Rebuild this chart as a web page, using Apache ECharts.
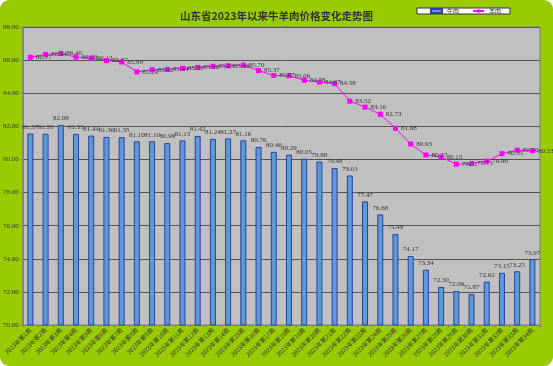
<!DOCTYPE html>
<html><head><meta charset="utf-8">
<script src="https://cdn.jsdelivr.net/npm/echarts@6/dist/echarts.min.js"></script>
<style>
html,body{margin:0;padding:0;background:#fff;}
#c{width:553px;height:366px;background:#99CC00;border-radius:9px;overflow:hidden;}
</style></head>
<body><div id="c"></div>
<script>
const titleText = '山东省2023年以来牛羊肉价格变化走势图';
const weeks = [];
for (let i = 1; i <= 34; i++) weeks.push('2023年第' + i + '周');
const beef = [81.57,81.55,82.08,81.55,81.44,81.36,81.35,81.10,81.10,80.99,81.15,81.42,81.24,81.27,81.16,80.76,80.46,80.29,80.05,79.88,79.48,79.03,77.47,76.68,75.49,74.17,73.34,72.30,72.06,71.87,72.62,73.15,73.25,73.97];
const mutton = [86.17,86.34,86.40,86.18,86.12,85.97,85.89,85.29,85.42,85.44,85.50,85.56,85.63,85.66,85.70,85.37,85.07,85.06,84.78,84.67,84.58,83.52,83.16,82.73,81.88,80.93,80.27,80.15,79.71,79.75,79.90,80.35,80.56,80.53];
const yMin = 70, yMax = 88, yStep = 2;

const chart = echarts.init(document.getElementById('c'), null, {renderer:'canvas'});
const lblFont = 'Liberation Serif, DejaVu Serif, serif';
chart.setOption({
  animation:false,
  title:{text:titleText,left:'center',top:6,
    textStyle:{fontSize:10.5,fontWeight:'bold',color:'#333',fontFamily:'Noto Sans CJK SC'}},
  legend:{right:43,top:8,itemWidth:11,itemHeight:4,itemGap:13,
    backgroundColor:'#fff',borderColor:'#333',borderWidth:1,padding:[0,9,0,13],
    textStyle:{fontSize:6,color:'#333',fontFamily:'Noto Sans CJK SC'},
    data:[{name:'牛肉',icon:'rect'},{name:'羊肉'}]},
  grid:{left:22,right:13,top:27,bottom:41,show:true,backgroundColor:'#C0C0C0',borderColor:'#808080',borderWidth:1},
  xAxis:{type:'category',data:weeks,
    axisLine:{lineStyle:{color:'#808080'}},
    axisTick:{show:true,alignWithLabel:false,length:2,lineStyle:{color:'#808080'}},
    axisLabel:{rotate:45,interval:0,fontSize:6,color:'#333',margin:4,fontFamily:'Noto Sans CJK SC'}},
  yAxis:{type:'value',min:yMin,max:yMax,interval:yStep,
    axisLine:{show:true,lineStyle:{color:'#808080'}},
    axisTick:{show:true,length:2,lineStyle:{color:'#808080'}},
    axisLabel:{fontSize:7,color:'#333',margin:4,fontFamily:lblFont,formatter:v=>v.toFixed(2)},
    splitLine:{lineStyle:{color:'#555',width:1}}},
  series:[
    {name:'牛肉',type:'bar',data:beef,barWidth:6,
      itemStyle:{color:'#5B9BD5',borderColor:'#2E3FA0',borderWidth:1},
      label:{show:true,position:'top',distance:3,fontSize:7,color:'#333',fontFamily:lblFont,formatter:p=>p.value.toFixed(2)}},
    {name:'羊肉',type:'line',data:mutton,symbol:'rect',symbolSize:5,
      lineStyle:{color:'#FF00FF',width:1},itemStyle:{color:'#FF00FF'},
      label:{show:true,position:'right',distance:3,fontSize:7,color:'#333',fontFamily:lblFont,formatter:p=>p.value.toFixed(2)}}
  ]
});
</script></body></html>
